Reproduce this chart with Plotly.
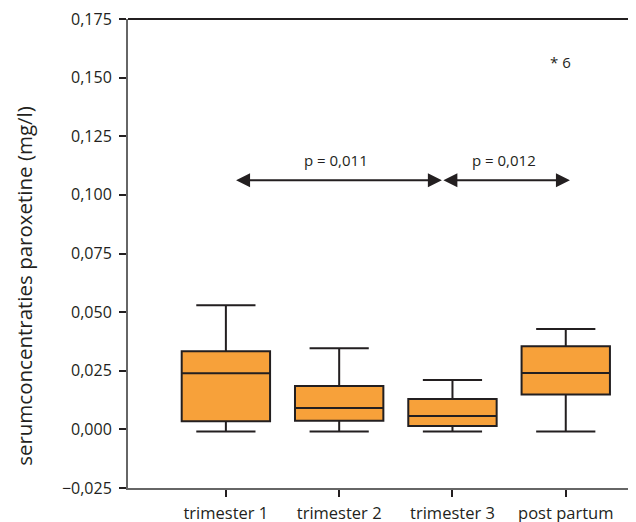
import plotly.graph_objects as go

categories = ["trimester 1", "trimester 2", "trimester 3", "post partum"]
lower_whisker = [-0.0009, -0.0009, -0.0009, -0.0009]
q1 = [0.0035, 0.0037, 0.0014, 0.0149]
median = [0.0239, 0.0091, 0.0057, 0.0240]
q3 = [0.0333, 0.0185, 0.0129, 0.0354]
upper_whisker = [0.0529, 0.0346, 0.0210, 0.0428]
y_ticks = [-0.025, 0, 0.025, 0.05, 0.075, 0.1, 0.125, 0.15, 0.175]

outlier_label = "* 6"
outlier_value = 0.1566
comparisons = [("p = 0,011", 0.09, 1.92), ("p = 0,012", 1.92, 3.05)]
arrow_y = 0.1062
label_y = 0.1150
y_title = "serumconcentraties paroxetine (mg/l)"

FONT = "Open Sans"
DARK = "#231f20"

fig = go.Figure()
fig.add_trace(go.Box(
    x=categories,
    q1=q1, median=median, q3=q3,
    lowerfence=lower_whisker, upperfence=upper_whisker,
    fillcolor="#f7a13a",
    line=dict(color=DARK, width=2),
    whiskerwidth=0.67,
    width=0.78,
    boxpoints=False,
    hoverinfo="skip",
    showlegend=False,
))

# outlier label
fig.add_annotation(x=2.95, y=outlier_value, text=outlier_label, showarrow=False,
                   font=dict(family=FONT, size=15, color=DARK), xref="x", yref="y")

for text, x0, x1 in comparisons:
    fig.add_annotation(x=x0, y=arrow_y, ax=x1, ay=arrow_y, xref="x", yref="y",
                       axref="x", ayref="y", text="", showarrow=True,
                       arrowhead=2, arrowside="end+start", arrowsize=1.4,
                       arrowwidth=2, arrowcolor=DARK)
    fig.add_annotation(x=(x0 + x1) / 2 - 0.03, y=label_y, text=text, showarrow=False,
                       font=dict(family=FONT, size=15, color=DARK), xref="x", yref="y")

# y-axis title
fig.add_annotation(x=0, y=0.431, xref="paper", yref="paper", xshift=-104,
                   text=y_title, textangle=-90, showarrow=False,
                   xanchor="center", yanchor="middle",
                   font=dict(family=FONT, size=20.5, color=DARK))

# top frame line
fig.add_shape(type="line", xref="paper", yref="paper", x0=0, x1=1, y0=1, y1=1,
              line=dict(color=DARK, width=2))

fig.update_layout(
    width=636, height=522,
    margin=dict(l=120, r=8, t=11, b=42, autoexpand=False),
    plot_bgcolor="white", paper_bgcolor="white",
    separators=",.",
    font=dict(family=FONT, color=DARK),
)
fig.update_yaxes(
    range=[-0.02501, 0.17501], tickvals=y_ticks, automargin=False,
    tickformat=".3f", showgrid=False, zeroline=False,
    showline=True, linecolor="#666666", linewidth=2,
    ticks="outside", ticklen=7, tickwidth=2, tickcolor=DARK,
    ticklabelstandoff=4, ticklabeloverflow="allow",
    tickfont=dict(family=FONT, size=16, color=DARK),
)
fig.update_xaxes(
    range=[-0.864, 3.62], showgrid=False, zeroline=False, automargin=False,
    showline=True, linecolor="#666666", linewidth=2,
    ticks="outside", ticklen=7, tickwidth=2, tickcolor=DARK,
    ticklabelstandoff=2, ticklabeloverflow="allow",
    tickfont=dict(family=FONT, size=16.5, color=DARK),
)

fig.write_html("out.html")
